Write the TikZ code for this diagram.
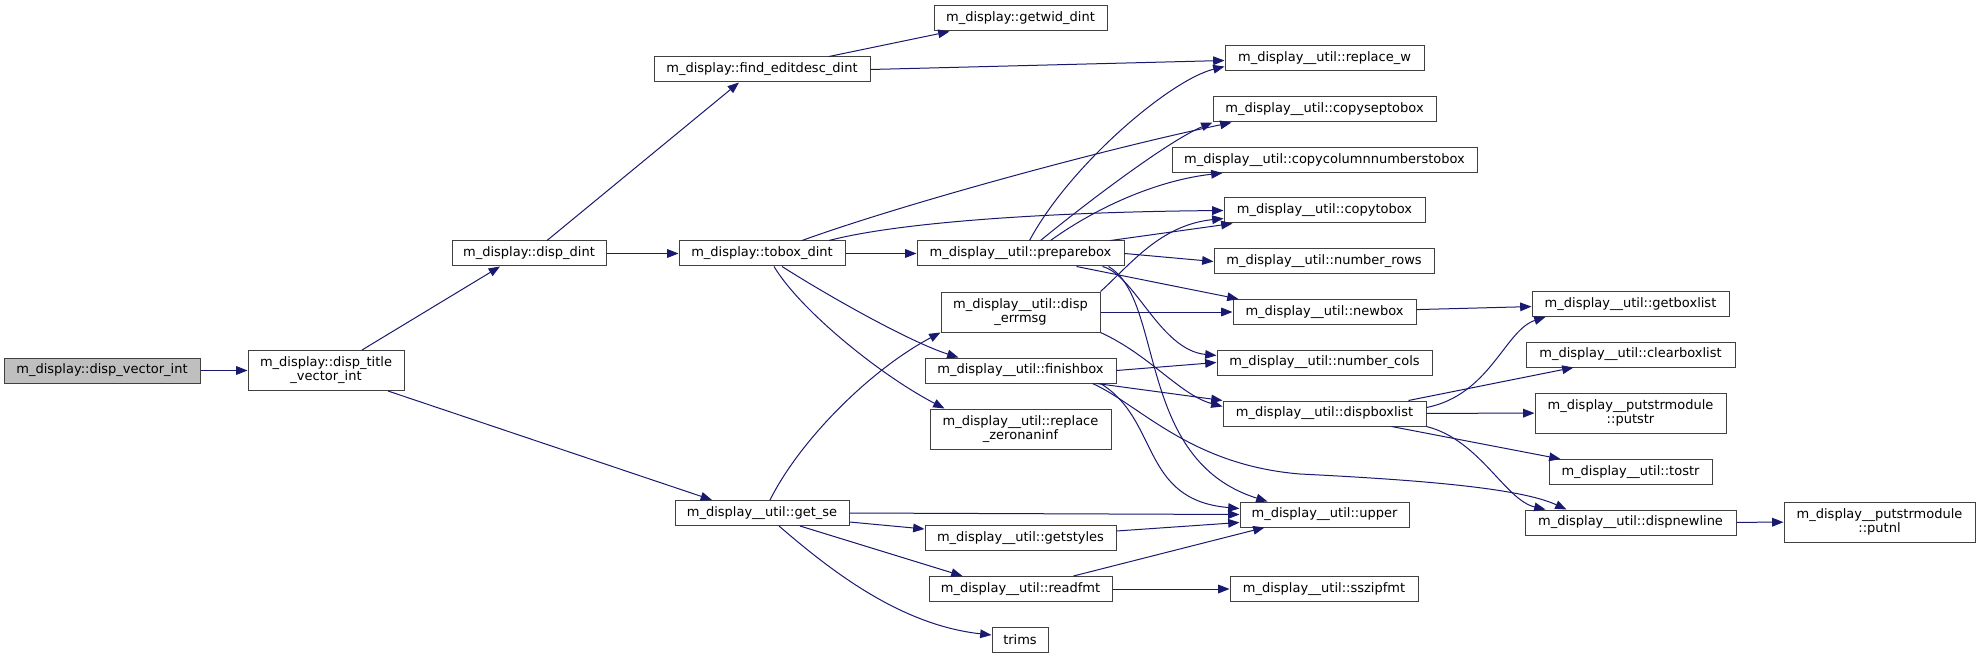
\documentclass[tikz,border=0pt]{standalone}
\usepackage{fontspec}
\setmainfont{DejaVu Sans}
\usetikzlibrary{arrows.meta,calc}
\definecolor{edgeblue}{HTML}{191970}
\definecolor{boxline}{HTML}{404040}
\definecolor{rootfill}{HTML}{BFBFBF}

\begin{document}
\begin{tikzpicture}[x=0.75pt, y=-0.75pt, >={Triangle[length=8.5pt,width=6.5pt]},
                    every node/.style={font=\fontsize{9.75pt}{10.5pt}\selectfont},
                    fn/.style={draw=boxline, line width=0.75pt, fill=white, inner sep=0pt,
                               minimum height=18.75pt, minimum width=#1*0.75pt, align=center},
                    fn2/.style={fn=#1, minimum height=30pt},
                    call/.style={edgeblue, line width=0.75pt, ->}]

  %% 畫布
  \fill[white] (0,0) rectangle (1980,659);

  %% 左側: 根節點與第一層
  \node[fn=196, fill=rootfill] (vecint) at (102,370.5) {m\_display::disp\_vector\_int};
  \node[fn2=156] (title) at (326,370.5) {m\_display::disp\_title\\\_vector\_int};
  \node[fn=154] (dispdint) at (529,253.5) {m\_display::disp\_dint};
  \node[fn=216] (findedit) at (762,69.5) {m\_display::find\_editdesc\_dint};
  \node[fn=166] (tobox) at (762,253.5) {m\_display::tobox\_dint};
  \node[fn=174] (getse) at (762,513) {m\_display\_\_util::get\_se};

  %% 中間一欄
  \node[fn=173] (getwid) at (1020.5,18.5) {m\_display::getwid\_dint};
  \node[fn=207] (prepare) at (1020.5,253.5) {m\_display\_\_util::preparebox};
  \node[fn2=159] (errmsg) at (1020.5,312) {m\_display\_\_util::disp\\\_errmsg};
  \node[fn=191] (finish) at (1020.5,370.5) {m\_display\_\_util::finishbox};
  \node[fn2=181] (zeronan) at (1020.5,429) {m\_display\_\_util::replace\\\_zeronaninf};
  \node[fn=191] (getstyles) at (1020.5,538) {m\_display\_\_util::getstyles};
  \node[fn=183] (readfmt) at (1020.5,589) {m\_display\_\_util::readfmt};
  \node[fn=56] (trims) at (1020,640) {trims};

  %% 右側一欄
  \node[fn=199] (replw) at (1324.5,58.5) {m\_display\_\_util::replace\_w};
  \node[fn=223] (copysep) at (1324.5,109.5) {m\_display\_\_util::copyseptobox};
  \node[fn=305] (copycol) at (1324.5,160) {m\_display\_\_util::copycolumnnumberstobox};
  \node[fn=201] (copyto) at (1324.5,210.5) {m\_display\_\_util::copytobox};
  \node[fn=220] (numrows) at (1324,261.5) {m\_display\_\_util::number\_rows};
  \node[fn=183] (newbox) at (1324.5,312) {m\_display\_\_util::newbox};
  \node[fn=215] (numcols) at (1324.5,362.5) {m\_display\_\_util::number\_cols};
  \node[fn=203] (dispbox) at (1324.5,413.5) {m\_display\_\_util::dispboxlist};
  \node[fn=169] (upper) at (1324.5,514.5) {m\_display\_\_util::upper};
  \node[fn=188] (sszip) at (1324,589) {m\_display\_\_util::sszipfmt};

  %% 最右兩欄
  \node[fn=197] (getbox) at (1630.5,304) {m\_display\_\_util::getboxlist};
  \node[fn=209] (clearbox) at (1630.5,354.5) {m\_display\_\_util::clearboxlist};
  \node[fn2=191] (putstr) at (1630.5,413) {m\_display\_\_putstrmodule\\::putstr};
  \node[fn=163] (tostr) at (1630.5,472) {m\_display\_\_util::tostr};
  \node[fn=211] (newline) at (1630.5,522.5) {m\_display\_\_util::dispnewline};
  \node[fn2=191] (putnl) at (1879.5,522) {m\_display\_\_putstrmodule\\::putnl};

  %% 呼叫關係: 左側
  \draw[call] (vecint) -- (title);
  \draw[call] ($(title.north)+(36,0)$) -- ($(dispdint.south)+(-29,0)$);
  \draw[call] ($(title.south)+(62,0)$) -- ($(getse.north)+(-50,0)$);
  \draw[call] ($(dispdint.north)+(18,0)$) -- ($(findedit.south)+(-23,0)$);
  \draw[call] (dispdint) -- (tobox);
  \draw[call] ($(findedit.north)+(67,0)$) -- ($(getwid.south)+(-71,0)$);
  \draw[call] (findedit.east) -- ($(replw.west)+(0,2)$);

  %% tobox_dint
  \draw[call] ($(tobox.north)+(40,0)$) .. controls (900,205) and (1100,150) .. ($(copysep.south)+(-93,0)$);
  \draw[call] ($(tobox.north)+(67,0)$) .. controls (900,222) and (1050,212) .. (copyto.west);
  \draw[call] (tobox) -- (prepare);
  \draw[call] ($(tobox.south)+(20,0)$) .. controls (830,297) and (910,342) .. ($(finish.north)+(-62,0)$);
  \draw[call] ($(tobox.south)+(12,0)$) .. controls (800,310) and (880,375) .. ($(zeronan.north)+(-76,0)$);

  %% preparebox
  \draw[call] ($(prepare.north)+(9,0)$) .. controls (1070,165) and (1170,80) .. ($(replw.west)+(0,8)$);
  \draw[call] ($(prepare.north)+(20,0)$) .. controls (1090,200) and (1170,140) .. (copysep.south west);
  \draw[call] ($(prepare.north)+(30,0)$) .. controls (1100,205) and (1160,180) .. ($(copycol.south)+(-102,0)$);
  \draw[call] ($(prepare.north)+(90,0)$) -- ($(copyto.south)+(-92,0)$);
  \draw[call] (prepare.east) -- (numrows.west);
  \draw[call] ($(prepare.south)+(56,0)$) -- ($(newbox.north)+(-86,0)$);
  \draw[call] ($(prepare.south)+(82,0)$) .. controls (1135,275) and (1160,350) .. ($(numcols.west)+(0,-7)$);
  \draw[call] ($(prepare.south)+(88,0)$) .. controls (1165,300) and (1135,460) .. ($(upper.north)+(-57,0)$);

  %% disp_errmsg 與 finishbox
  \draw[call] (errmsg.north east) .. controls (1130,265) and (1160,225) .. ($(copyto.west)+(0,8)$);
  \draw[call] (errmsg) -- (newbox);
  \draw[call] (errmsg.south east) .. controls (1150,355) and (1180,395) .. ($(dispbox.west)+(0,-7)$);
  \draw[call] (finish.east) -- (numcols.west);
  \draw[call] ($(finish.south)+(76,0)$) -- (dispbox.north west);
  \draw[call] ($(finish.south)+(80,0)$) .. controls (1160,420) and (1140,500) .. ($(upper.west)+(0,-6)$);
  \draw[call] ($(finish.south)+(72,0)$) .. controls (1140,405) and (1190,465) .. (1300,474)
              .. controls (1420,480) and (1520,488) .. ($(newline.north)+(-64,0)$);

  %% 右側
  \draw[call] (newbox) -- (getbox);
  \draw[call] ($(dispbox.east)+(0,-6)$) .. controls (1490,395) and (1505,330) .. ($(getbox.south)+(-85,0)$);
  \draw[call] ($(dispbox.north)+(84,0)$) -- ($(clearbox.south)+(-57,0)$);
  \draw[call] (dispbox) -- (putstr);
  \draw[call] ($(dispbox.south)+(67,0)$) -- ($(tostr.north)+(-70,0)$);
  \draw[call] (dispbox.south east) .. controls (1480,440) and (1505,500) .. ($(newline.north)+(-85,0)$);
  \draw[call] (newline) -- (putnl);

  %% get_se
  \draw[call] ($(getse.north)+(8,0)$) .. controls (800,440) and (870,370) .. (errmsg.south west);
  \draw[call] (getse.east) -- (upper.west);
  \draw[call] ($(getse.east)+(0,9)$) -- ($(getstyles.west)+(0,-9)$);
  \draw[call] ($(getse.south)+(38,0)$) -- ($(readfmt.north)+(-58,0)$);
  \draw[call] ($(getse.south)+(17,0)$) .. controls (830,570) and (900,625) .. ($(trims.west)+(0,-5)$);
  \draw[call] ($(getstyles.east)+(0,-7)$) -- ($(upper.west)+(0,8)$);
  \draw[call] ($(readfmt.north)+(53,0)$) -- ($(upper.south)+(-60,0)$);
  \draw[call] (readfmt) -- (sszip);

\end{tikzpicture}
\end{document}
